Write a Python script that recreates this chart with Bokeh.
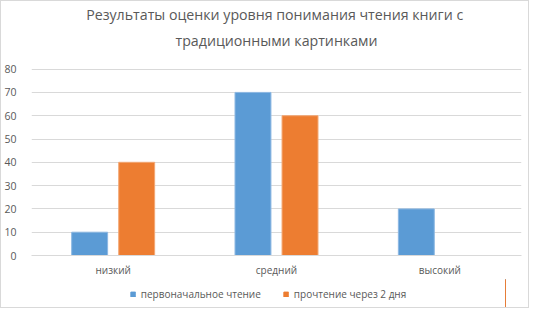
from bokeh.plotting import figure
from bokeh.layouts import column
from bokeh.models import FactorRange, Range1d, Title, Legend, LegendItem, ColumnDataSource, FixedTicker
from bokeh.transform import dodge
from bokeh.embed import file_html
from bokeh.resources import INLINE

categories = ["низкий", "средний", "высокий"]
initial = [10, 70, 20]
after_two_days = [40, 60, 0]
series_names = ["первоначальное чтение", "прочтение через 2 дня"]
series_colors = ["#5B9BD5", "#ED7D31"]
title_lines = ["Результаты оценки уровня понимания  чтения книги с", "традиционными картинками"]
y_ticks = [0, 10, 20, 30, 40, 50, 60, 70, 80]

FONT = "Open Sans"
GRAY = "#595959"

src = ColumnDataSource(dict(cat=categories, a=initial, b=after_two_days))

p = figure(x_range=FactorRange(*categories, range_padding=0), y_range=Range1d(0, 86.7),
           frame_width=490, frame_height=202,
           output_backend="svg", toolbar_location=None,
           min_border_left=0, min_border_right=7, min_border_top=0, min_border_bottom=0)
p.title = None
p.outline_line_color = None

p.vbar(x=dodge("cat", -0.144, range=p.x_range), top="a", width=0.22, source=src,
       fill_color=series_colors[0], line_color="#8db8e3", line_width=1)
p.vbar(x=dodge("cat", 0.144, range=p.x_range), top="b", width=0.22, source=src,
       fill_color=series_colors[1], line_color="#f3a774", line_width=1)

t2 = Title(text=title_lines[1], align="center", text_font=FONT, text_font_size="14.2px",
           text_color=GRAY, text_font_style="normal", standoff=8)
t1 = Title(text=title_lines[0], align="center", text_font=FONT, text_font_size="14.2px",
           text_color=GRAY, text_font_style="normal", standoff=2)
p.add_layout(t2, "above")
p.add_layout(t1, "above")

p.yaxis.ticker = FixedTicker(ticks=y_ticks)
p.yaxis.axis_line_color = None
p.yaxis.major_tick_line_color = None
p.yaxis.minor_tick_line_color = None
p.yaxis.major_label_text_font = FONT
p.yaxis.major_label_text_font_size = "10.5px"
p.yaxis.major_label_text_color = GRAY
p.yaxis.major_label_standoff = 9

p.xaxis.axis_line_color = "#d9d9d9"
p.xaxis.major_tick_line_color = None
p.xaxis.minor_tick_line_color = None
p.xaxis.major_label_text_font = FONT
p.xaxis.major_label_text_font_size = "10px"
p.xaxis.major_label_text_color = GRAY
p.xaxis.major_label_standoff = 1

p.xgrid.grid_line_color = None
p.ygrid.grid_line_color = "#d9d9d9"

# legend strip below the chart (proxy renderers fall outside its 0..1 ranges)
p2 = figure(width=511, height=28, x_range=Range1d(0, 1), y_range=Range1d(0, 1),
            x_axis_type=None, y_axis_type=None, output_backend="svg", toolbar_location=None,
            min_border=0)
p2.title = None
p2.outline_line_color = None
p2.xgrid.grid_line_color = None
p2.ygrid.grid_line_color = None
l1 = p2.vbar(x="a", top="a", width=0.1, source=src,
             fill_color=series_colors[0], line_color=series_colors[0])
l2 = p2.vbar(x="a", top="a", width=0.1, source=src,
             fill_color=series_colors[1], line_color=series_colors[1])

legend = Legend(items=[LegendItem(label=series_names[0], renderers=[l1]),
                       LegendItem(label=series_names[1], renderers=[l2])],
                orientation="horizontal", location="bottom_center",
                label_text_font=FONT, label_text_font_size="10px", label_text_color=GRAY,
                glyph_width=6, glyph_height=6, label_height=12, spacing=22, label_standoff=5,
                border_line_color=None, background_fill_alpha=0, padding=0, margin=6)
p2.add_layout(legend)

layout = column(p, p2, spacing=0, styles={"border": "1px solid #d9d9d9"})

open("out.html", "w").write(file_html(layout, INLINE))
